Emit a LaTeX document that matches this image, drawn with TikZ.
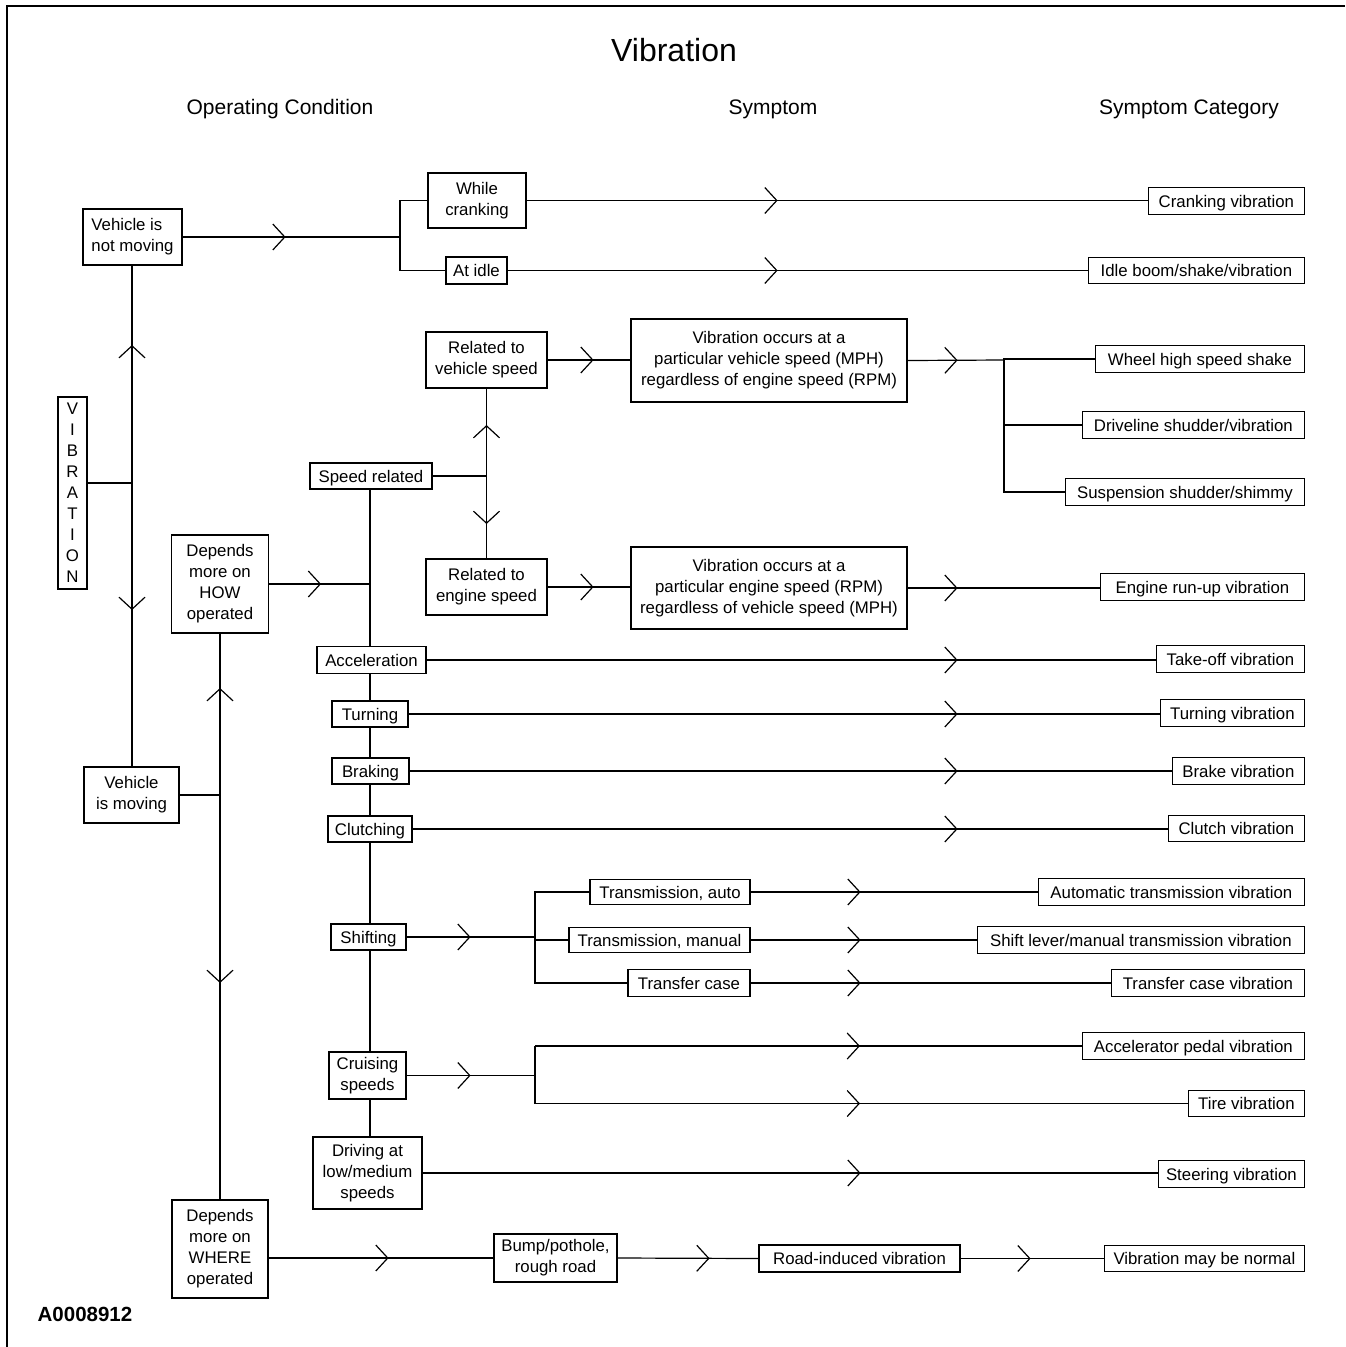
\documentclass[tikz,border=0pt]{standalone}
\usepackage{fontspec}
\setmainfont{Liberation Sans}
\usetikzlibrary{arrows.meta,decorations.markings}

\begin{document}
\begin{tikzpicture}[
            x=1pt,y=-1pt,line width=1.2pt,
            >={Straight Barb[length=12pt,width=26pt]},
            box/.style={draw,rectangle,inner sep=0pt,align=center,font=\fontsize{16.8}{21}\selectfont},
            single/.style={box,text height=12pt,text depth=0pt},
            cat/.style={single,anchor=east,minimum height=26.5pt},
            head/.style={font=\fontsize{21}{25}\selectfont},
            midarrow/.style={postaction={decorate,decoration={markings,mark=at position #1pt with {\arrow{>}}}}}
          ]
          \useasboundingbox (0,0) rectangle (1345,1347);
          \draw (7,1347) -- (7,6) -- (1345,6);

          %headings
          \node[font=\fontsize{32}{38}\selectfont] (title) at (674,50) {Vibration};
          \node[head] (hcond) at (280,109) {Operating Condition};
          \node[head] (hsym) at (773,109) {Symptom};
          \node[head] (hcat) at (1189,109) {Symptom Category};
          \node[font=\fontsize{20.5}{24}\selectfont\bfseries] (code) at (85,1314) {A0008912};

          %operating condition
          \node[box,minimum width=29pt,minimum height=192pt] (vib) at (72.5,493) {V\\I\\B\\R\\A\\T\\I\\O\\N};
          \node[box,align=left,minimum width=99pt,minimum height=56pt] (notmoving) at (132.5,237) {Vehicle is\\not moving};
          \node[box,minimum width=95pt,minimum height=56pt] (moving) at (131.5,795) {Vehicle\\is moving};
          \node[box,minimum width=97pt,minimum height=98pt] (how) at (220,584) {Depends\\more on\\HOW\\operated};
          \node[box,minimum width=96pt,minimum height=98pt] (where) at (220,1249) {Depends\\more on\\WHERE\\operated};
          \node[box,minimum width=98pt,minimum height=55pt] (crank) at (477,200.5) {While\\cranking};
          \node[single,minimum width=61pt,minimum height=27pt] (idle) at (476.5,270.5) {At idle};
          \node[single,minimum width=122pt,minimum height=26pt] (speed) at (371,476) {Speed related};
          \node[box,minimum width=121pt,minimum height=56pt] (vspeed) at (486.5,360) {Related to\\vehicle speed};
          \node[box,minimum width=121pt,minimum height=56pt] (espeed) at (486.5,587) {Related to\\engine speed};
          \node[single,minimum width=109pt,minimum height=27pt] (accel) at (371.5,660) {Acceleration};
          \node[single,minimum width=76pt,minimum height=26pt] (turning) at (370,714) {Turning};
          \node[single,minimum width=77pt,minimum height=26pt] (braking) at (370.5,771) {Braking};
          \node[single,minimum width=84pt,minimum height=26pt] (clutching) at (370,829) {Clutching};
          \node[single,minimum width=75pt,minimum height=26pt] (shifting) at (368.5,937) {Shifting};
          \node[box,minimum width=77pt,minimum height=47pt] (cruising) at (367.5,1075.5) {Cruising\\speeds};
          \node[box,minimum width=109pt,minimum height=72pt] (driving) at (367.5,1173) {Driving at\\low/medium\\speeds};

          %symptom
          \node[box,minimum width=276pt,minimum height=83pt] (vocc1) at (769,360.5) {Vibration occurs at a\\particular vehicle speed (MPH)\\regardless of engine speed (RPM)};
          \node[box,minimum width=276pt,minimum height=82pt] (vocc2) at (769,588) {Vibration occurs at a\\particular engine speed (RPM)\\regardless of vehicle speed (MPH)};
          \node[single,minimum width=160pt,minimum height=25pt] (trauto) at (670,892) {Transmission, auto};
          \node[single,minimum width=181pt,minimum height=25pt] (trman) at (659.5,940) {Transmission, manual};
          \node[single,minimum width=122pt,minimum height=27pt] (trcase) at (689,983) {Transfer case};
          \node[box,minimum width=123pt,minimum height=48pt] (bump) at (555.5,1258) {Bump/pothole,\\rough road};
          \node[single,minimum width=201pt,minimum height=27pt] (road) at (859.5,1258.5) {Road-induced vibration};

          %symptom category
          \node[cat,minimum width=156pt] (crankvib) at (1305,201) {Cranking vibration};
          \node[cat,minimum width=216pt] (idlevib) at (1305,270.5) {Idle boom/shake/vibration};
          \node[cat,minimum width=209pt] (wheel) at (1305,359) {Wheel high speed shake};
          \node[cat,minimum width=222pt] (driveline) at (1305,425) {Driveline shudder/vibration};
          \node[cat,minimum width=239pt] (susp) at (1305,492) {Suspension shudder/shimmy};
          \node[cat,minimum width=204pt] (runup) at (1305,587) {Engine run-up vibration};
          \node[cat,minimum width=148pt] (takeoff) at (1305,659) {Take-off vibration};
          \node[cat,minimum width=144pt] (turnvib) at (1305,713) {Turning vibration};
          \node[cat,minimum width=132pt] (brakevib) at (1305,771) {Brake vibration};
          \node[cat,minimum width=136pt] (clutchvib) at (1305,828.5) {Clutch vibration};
          \node[cat,minimum width=266pt] (autovib) at (1305,892) {Automatic transmission vibration};
          \node[cat,minimum width=327pt] (shiftvib) at (1305,940) {Shift lever/manual transmission vibration};
          \node[cat,minimum width=193pt] (casevib) at (1305,983) {Transfer case vibration};
          \node[cat,minimum width=222pt] (pedal) at (1305,1046) {Accelerator pedal vibration};
          \node[cat,minimum width=116pt] (tire) at (1305,1103.5) {Tire vibration};
          \node[cat,minimum width=146pt] (steer) at (1305,1174) {Steering vibration};
          \node[cat,minimum width=200pt] (normal) at (1305,1258.5) {Vibration may be normal};

          %forks
          \coordinate (vibjn) at (132,483);
          \coordinate (idlefork) at (400,237);
          \coordinate (movejn) at (moving.east -| how.south);
          \coordinate (trunk) at (370,0);
          \coordinate (speedjn) at (speed.east -| vspeed.south);
          \coordinate (catfork) at (1004,360);
          \coordinate (shiftfork) at (535,937);
          \coordinate (cruisefork) at (535,1075.5);

          %vibration
          \draw (vib.east |- vibjn) -- (vibjn);
          \draw[midarrow=138] (vibjn) -- (vibjn |- notmoving.south);
          \draw[midarrow=127] (vibjn) -- (vibjn |- moving.north);

          %not moving
          \draw[midarrow=103] (notmoving.east) -- (idlefork);
          \draw (idlefork) |- (crank.west);
          \draw (idlefork) |- (idle.west);
          \draw[midarrow=251] (crank.east) -- (crank.east -| crankvib.west);
          \draw[midarrow=270] (idle.east) -- (idlevib.west);

          %moving
          \draw (moving.east) -- (movejn);
          \draw[midarrow=107] (movejn) -- (how.south);
          \draw[midarrow=188] (movejn) -- (where.north);
          \draw[midarrow=52] (how.east) -- (how.east -| trunk);
          \foreach \a/\b in {speed/accel,accel/turning,turning/braking,braking/clutching,
                             clutching/shifting,shifting/cruising,cruising/driving}
            \draw (\a.south -| trunk) -- (\b.north -| trunk);

          %speed related
          \draw (speed.east) -- (speedjn);
          \draw[midarrow=51] (speedjn) -- (vspeed.south);
          \draw[midarrow=48] (speedjn) -- (espeed.north);
          \draw[midarrow=46] (vspeed.east) -- (vspeed.east -| vocc1.west);
          \draw[midarrow=46] (espeed.east) -- (espeed.east -| vocc2.west);
          \draw[midarrow=50] (vocc1.east) -- (catfork);
          \draw (catfork) |- (wheel.west);
          \draw (catfork) |- (susp.west);
          \draw (catfork |- driveline.west) -- (driveline.west);

          %straight rows
          \foreach \a/\b/\d in {vocc2/runup/50,accel/takeoff/531,turning/turnvib/549,braking/brakevib/548,
                                clutching/clutchvib/545,trauto/autovib/110,trman/shiftvib/110,
                                trcase/casevib/110,driving/steer/438}
            \draw[midarrow=\d] (\a.east) -- (\a.east -| \b.west);

          %shifting, cruising
          \draw[midarrow=64] (shifting.east) -- (shiftfork);
          \draw (shiftfork) |- (trauto.west);
          \draw (shiftfork) |- (trman.west);
          \draw (shiftfork) |- (trcase.west);
          \draw[midarrow=64] (cruising.east) -- (cruisefork);
          \draw (cruisefork |- pedal.west) -- (cruisefork |- tire.west);
          \draw[midarrow=325] (cruisefork |- pedal.west) -- (pedal.west);
          \draw[midarrow=325] (cruisefork |- tire.west) -- (tire.west);

          %where operated
          \draw[midarrow=120] (where.east |- bump.west) -- (bump.west);
          \draw[midarrow=92] (bump.east) -- (road.west);
          \draw[midarrow=70] (road.east) -- (normal.west);

      \end{tikzpicture}
\end{document}
